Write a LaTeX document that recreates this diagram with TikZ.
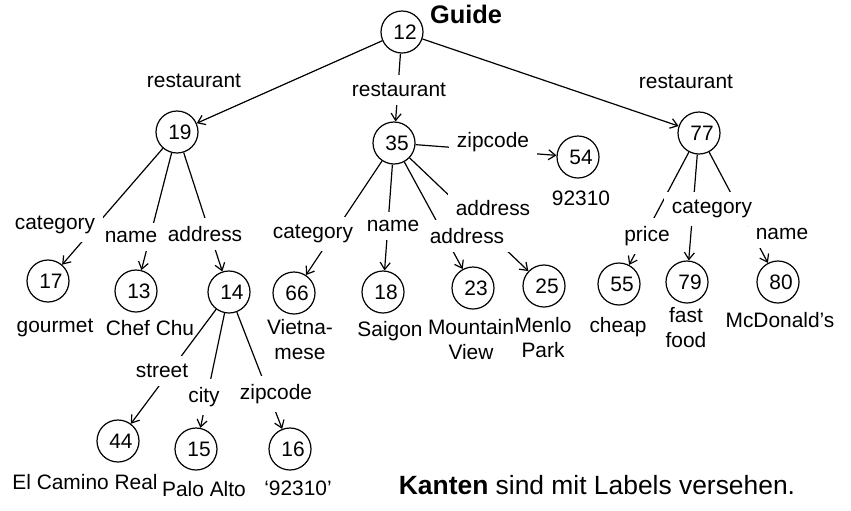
\documentclass[tikz,border=0pt]{standalone}
\usepackage{fontspec}
\setmainfont{Liberation Sans}
\usetikzlibrary{arrows.meta}

\begin{document}
\begin{tikzpicture}[x=0.5pt, y=-0.5pt,
  every node/.style={font=\fontsize{10.45}{12.5}\selectfont},
  obj/.style={draw, circle, line width=0.6pt, minimum size=21pt, inner sep=0pt, execute at begin node=\hspace*{3pt}},
  lbl/.style={fill=white, inner sep=4pt},
  val/.style={align=center, inner sep=1pt},
  link/.style={line width=0.6pt, -{Straight Barb[length=3.5pt,width=5pt]}}]
\useasboundingbox (0,0) rectangle (851,510);
\node[obj] (n12) at (402,32) {12};
\node[font=\fontsize{12.7}{15}\selectfont\bfseries] (guide) at (466,14) {Guide};
\node[obj] (n19) at (177,132) {19};
\node[obj] (n35) at (394,143) {35};
\node[obj] (n77) at (699,133) {77};
\node[obj] (n54) at (578,157) {54};
\node[obj] (n17) at (48,281) {17};
\node[obj] (n13) at (136,291) {13};
\node[obj] (n14) at (229,292) {14};
\node[obj] (n66) at (294,293) {66};
\node[obj] (n18) at (383,292) {18};
\node[obj] (n23) at (473,288) {23};
\node[obj] (n25) at (544,286) {25};
\node[obj] (n55) at (619,284) {55};
\node[obj] (n79) at (687,282) {79};
\node[obj] (n80) at (778,282) {80};
\node[obj] (n44) at (118,441) {44};
\node[obj] (n15) at (196,449) {15};
\node[obj] (n16) at (290,449) {16};
\node[val] (v54) at (581,198) {92310};
\node[val] (v17) at (55,328) {gourmet};
\node[val] (v13) at (150,328) {Chef Chu};
\node[val] (v66) at (300,340) {Vietna-\\mese};
\node[val] (v18) at (390,331) {Saigon};
\node[val] (v23) at (471,340) {Mountain\\View};
\node[val] (v25) at (543,338) {Menlo\\Park};
\node[val] (v55) at (618,327) {cheap};
\node[val] (v79) at (686,328) {fast\\food};
\node[val] (v80) at (780,320) {McDonald’s};
\node[val] (v44) at (85,482) {El Camino Real};
\node[val] (v15) at (204,489) {Palo Alto};
\node[val] (v16) at (298,488) {‘92310’};
\draw[link] (n12) -- (n19);
\draw[link] (n12) -- (n35);
\draw[link] (n12) -- (n77);
\draw[link] (n19) -- (n17);
\draw[link] (n19) -- (n13);
\draw[link] (n19) -- (n14);
\draw[link] (n35) -- (n66);
\draw[link] (n35) -- (n18);
\draw[link] (n35) -- (n23);
\draw[link] (n35) -- (n25);
\draw[link] (n35) -- (n54);
\draw[link] (n77) -- (n55);
\draw[link] (n77) -- (n79);
\draw[link] (n77) -- (n80);
\draw[link] (n14) -- (n44);
\draw[link] (n14) -- (n15);
\draw[link] (n14) -- (n16);
\node[lbl] (r19) at (194,81) {restaurant};
\node[lbl] (r35) at (399,90) {restaurant};
\node[lbl] (r77) at (686,82) {restaurant};
\node[lbl] (c17) at (55,225) {category};
\node[lbl] (m13) at (131,237) {name};
\node[lbl] (a14) at (205,234) {address};
\node[lbl] (c66) at (313,234) {category};
\node[lbl] (m18) at (393,226) {name};
\node[lbl] (a25) at (493,208) {address};
\node[lbl] (a23) at (467,236) {address};
\node[lbl] (z54) at (493,142) {zipcode};
\node[lbl] (p55) at (647,236) {price};
\node[lbl] (c79) at (712,209) {category};
\node[lbl] (m80) at (782,234) {name};
\node[lbl] (s44) at (162,371) {street};
\node[lbl] (t15) at (204,397) {city};
\node[lbl] (z16) at (276,394) {zipcode};
\node[font=\fontsize{13.2}{16}\selectfont] (note) at (597,485) {\textbf{Kanten} sind mit Labels versehen.};
\end{tikzpicture}
\end{document}
